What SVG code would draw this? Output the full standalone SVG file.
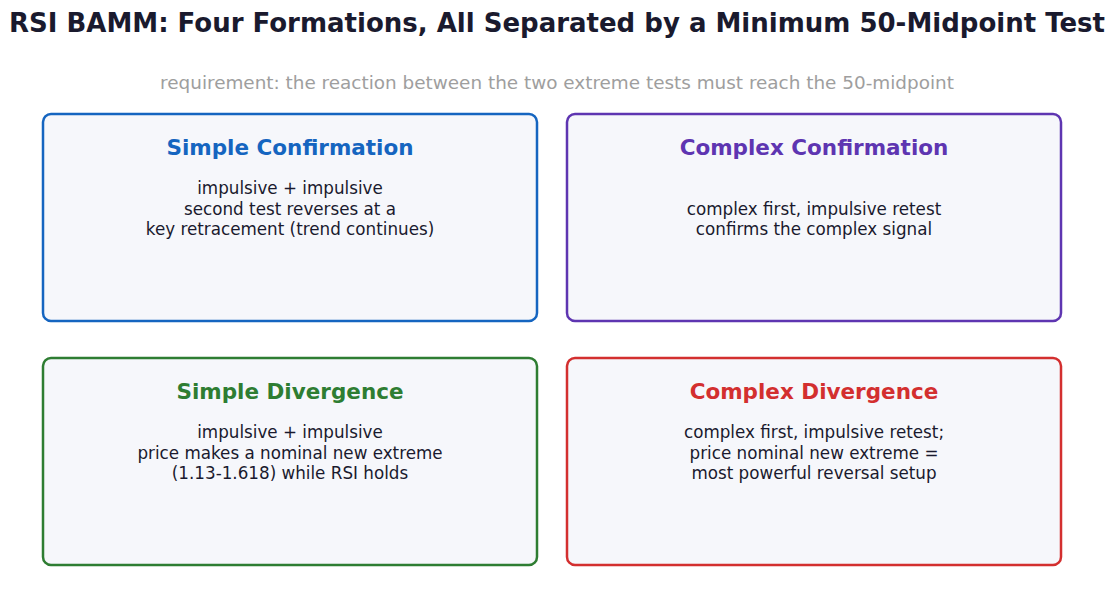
<svg xmlns="http://www.w3.org/2000/svg" width="1114" height="608" viewBox="0 0 1114 608">
<style>
text{font-family:"DejaVu Sans","Noto Sans",sans-serif;text-anchor:middle}
.title{font-size:26px;font-weight:bold;fill:#1a1a2e}
.sub{font-size:18.4px;fill:#9e9e9e}
.box{fill:#f6f7fb;stroke-width:2.5}
.h{font-size:21.5px;font-weight:bold}
.b{font-size:16.75px;fill:#1a1a2e}
</style>
<rect width="1114" height="608" fill="#ffffff"/>
<text class="title" x="557" y="32">RSI BAMM: Four Formations, All Separated by a Minimum 50-Midpoint Test</text>
<text class="sub" x="557" y="89">requirement: the reaction between the two extreme tests must reach the 50-midpoint</text>
<g id="simple-confirmation">
<rect class="box" x="43" y="114" width="494" height="207" rx="8" stroke="#1565c0"/>
<text class="h" x="290" y="154.5" fill="#1565c0">Simple Confirmation</text>
<text class="b" x="290" y="194">impulsive + impulsive</text>
<text class="b" x="290" y="214.5">second test reverses at a</text>
<text class="b" x="290" y="235">key retracement (trend continues)</text>
</g>
<g id="complex-confirmation">
<rect class="box" x="567" y="114" width="494" height="207" rx="8" stroke="#5e35b1"/>
<text class="h" x="814" y="154.5" fill="#5e35b1">Complex Confirmation</text>
<text class="b" x="814" y="214.5">complex first, impulsive retest</text>
<text class="b" x="814" y="235">confirms the complex signal</text>
</g>
<g id="simple-divergence">
<rect class="box" x="43" y="358" width="494" height="207" rx="8" stroke="#2e7d32"/>
<text class="h" x="290" y="398.5" fill="#2e7d32">Simple Divergence</text>
<text class="b" x="290" y="438">impulsive + impulsive</text>
<text class="b" x="290" y="458.5">price makes a nominal new extreme</text>
<text class="b" x="290" y="479">(1.13-1.618) while RSI holds</text>
</g>
<g id="complex-divergence">
<rect class="box" x="567" y="358" width="494" height="207" rx="8" stroke="#d32f2f"/>
<text class="h" x="814" y="398.5" fill="#d32f2f">Complex Divergence</text>
<text class="b" x="814" y="438">complex first, impulsive retest;</text>
<text class="b" x="814" y="458.5">price nominal new extreme =</text>
<text class="b" x="814" y="479">most powerful reversal setup</text>
</g>
<g id="connectors"></g>
</svg>
